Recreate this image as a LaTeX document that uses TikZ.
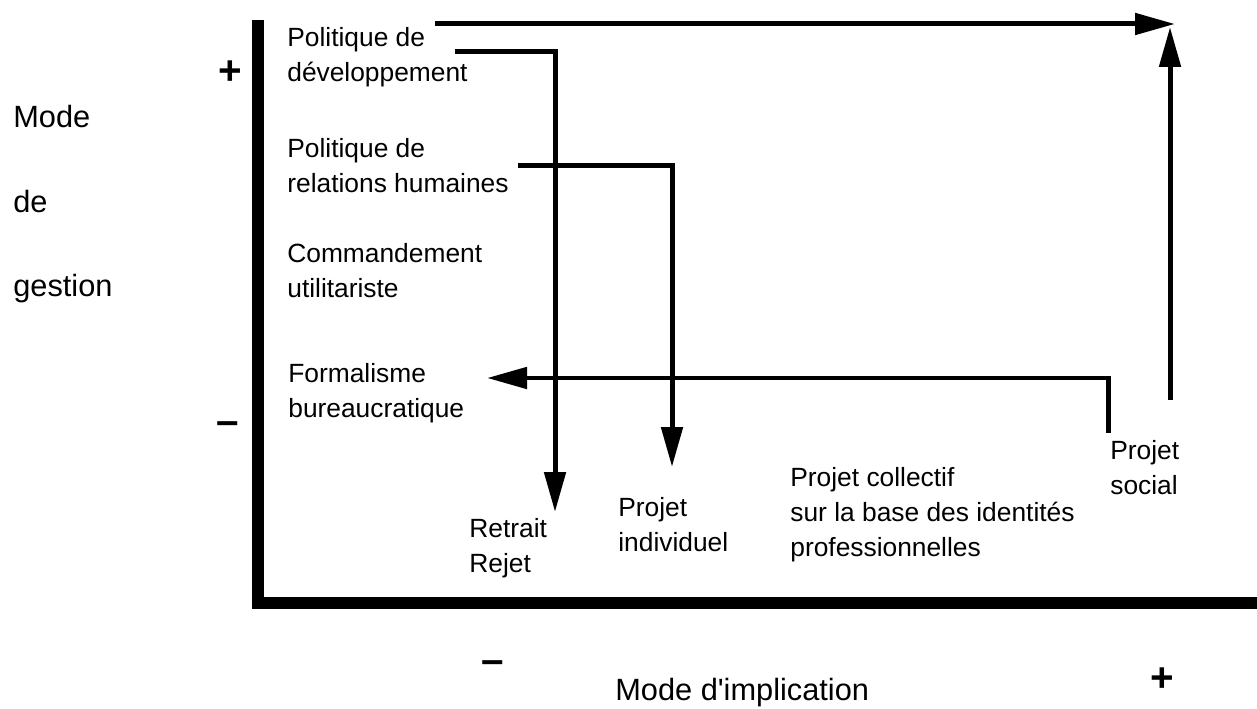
\documentclass[tikz,border=0pt]{standalone}
\usepackage{fontspec}
\setmainfont{Liberation Sans}
\usetikzlibrary{arrows.meta}
\tikzset{
  lab/.style={anchor=north west, align=left, inner sep=0pt, font=\fontsize{15}{20}\selectfont},
  axlab/.style={anchor=base west, inner sep=0pt, font=\fontsize{17.5}{21}\selectfont},
  sign/.style={inner sep=0pt, font=\fontsize{23}{25}\selectfont\bfseries},
  axisline/.style={line width=0.24cm, line join=miter},
  flow/.style={-{Triangle[length=0.8cm, width=0.42cm]}, line width=0.1cm},
}

\begin{document}
\begin{tikzpicture}[x=0.02cm, y=-0.02cm]
    \useasboundingbox (0,0) rectangle (1257,709);
    \draw[axisline] (258,20) -- (258,603) -- (1257,603);
    \node[sign] (plusg) at (230,73) {+};
    \node[sign] (minusg) at (228,428) {--};
    \node[sign] (minusi) at (493,667) {--};
    \node[sign] (plusi) at (1162,680) {+};
    \node[axlab] (mode) at (13,128) {Mode};
    \node[axlab] (de) at (13,213) {de};
    \node[axlab] (gestion) at (13,297) {gestion};
    \node[axlab] (implic) at (615,700) {Mode d\textquotesingle implication};
    \node[lab] (pdev) at (287,27) {Politique de\\développement};
    \node[lab] (prel) at (287,138) {Politique de\\relations humaines};
    \node[lab] (cmd) at (287,243) {Commandement\\utilitariste};
    \node[lab] (formal) at (288,363) {Formalisme\\bureaucratique};
    \node[lab] (retrait) at (469,518) {Retrait\\Rejet};
    \node[lab] (pindiv) at (618,497) {Projet\\individuel};
    \node[lab] (pcoll) at (790,467) {Projet collectif\\sur la base des identités\\professionnelles};
    \node[lab] (psoc) at (1110,440) {Projet\\social};
    \coordinate (topstart) at (435,24);
    \coordinate (topend) at (1175,24);
    \coordinate (socbase) at (1170,400);
    \coordinate (soctip) at (1170,27);
    \coordinate (devstart) at (455,52);
    \coordinate (retraittip) at (555,512);
    \coordinate (relstart) at (518,166);
    \coordinate (indivtip) at (672,467);
    \coordinate (socstart) at (1108,433);
    \coordinate (formaltip) at (487,378);
    \draw[flow] (topstart) -- (topend);
    \draw[flow] (socbase) -- (soctip);
    \draw[flow] (devstart) -| (retraittip);
    \draw[flow] (relstart) -| (indivtip);
    \draw[flow] (socstart) |- (formaltip);
  \end{tikzpicture}
\end{document}
